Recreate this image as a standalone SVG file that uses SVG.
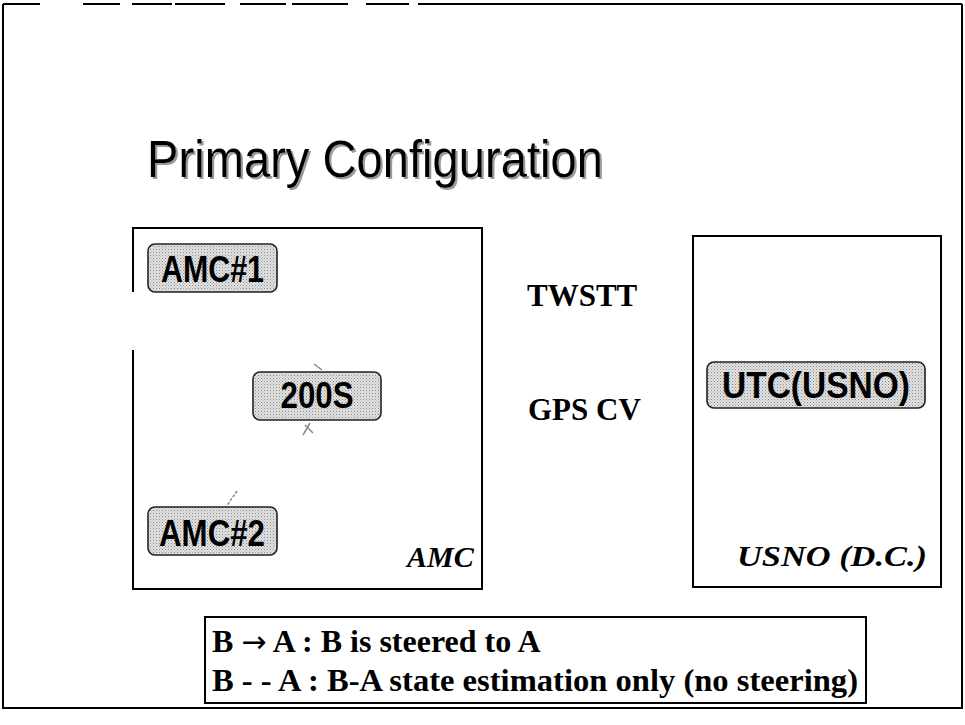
<svg xmlns="http://www.w3.org/2000/svg" width="965" height="725" viewBox="0 0 965 725">
<defs>
<pattern id="dots" width="3" height="3" patternUnits="userSpaceOnUse">
<rect width="3" height="3" fill="#e2e2e2"/>
<rect width="1" height="1" fill="#8a8a8a"/>
<rect x="1.5" y="1.5" width="1" height="1" fill="#a8a8a8"/>
</pattern>
<filter id="shadow" x="-5%" y="-20%" width="110%" height="140%">
<feOffset in="SourceAlpha" dx="2" dy="2" result="off"/>
<feFlood flood-color="#9a9a9a"/>
<feComposite in2="off" operator="in" result="sh"/>
<feMerge><feMergeNode in="sh"/><feMergeNode in="SourceGraphic"/></feMerge>
</filter>
</defs>
<style>
.frame{fill:none;stroke:#000;stroke-width:2}
.node{fill:url(#dots);stroke:#222;stroke-width:1.6}
.nt{font-family:"Liberation Sans",Arial,sans-serif;font-weight:bold;font-size:37px;fill:#000;text-anchor:middle}
.lab{font-family:"Liberation Serif","Times New Roman",serif;font-weight:bold;fill:#000}
.it{font-style:italic}
.frag{fill:none;stroke:#8a8a8a;stroke-width:1.5}
</style>
<rect width="965" height="725" fill="#fff"/>
<g id="outer-frame" class="frame">
<path d="M3,4 V708 H962 V4"/>
<path d="M3,4 H40 M83,4 H120 M132,4 H172 M175,4 H225 M240,4 H286 M292,4 H348 M366,4 H409 M418,4 H962"/>
</g>
<g id="title">
<text x="147" y="177" font-family="'Liberation Sans',Arial,sans-serif" font-size="51" fill="#000" textLength="456" lengthAdjust="spacingAndGlyphs" filter="url(#shadow)">Primary Configuration</text>
</g>
<g id="amc-site">
<path class="frame" d="M133,292 V228 H482 V589 H133 V350"/>
<text class="lab it" x="407" y="567" font-size="30">AMC</text>
</g>
<g id="usno-site">
<rect class="frame" x="693" y="236" width="248" height="351"/>
<text class="lab it" x="737" y="566" font-size="30" textLength="190" lengthAdjust="spacingAndGlyphs">USNO (D.C.)</text>
</g>
<g id="link-labels">
<text class="lab" x="527" y="306" font-size="31">TWSTT</text>
<text class="lab" x="528" y="420" font-size="31">GPS CV</text>
</g>
<g id="connectors">
<path class="frag" d="M314,364 L322,370"/>
<path class="frag" d="M303,435 L310,423 M305,425 L313,433"/>
<path class="frag" d="M237,491 L226,507" stroke-dasharray="3,1.5"/>
</g>
<g id="node-amc1">
<rect class="node" x="148" y="244" width="129" height="48" rx="7"/>
<text class="nt" x="212.5" y="282" textLength="103" lengthAdjust="spacingAndGlyphs">AMC#1</text>
</g>
<g id="node-200s">
<rect class="node" x="253" y="372" width="128" height="48" rx="7"/>
<text class="nt" x="317" y="408" textLength="73" lengthAdjust="spacingAndGlyphs">200S</text>
</g>
<g id="node-amc2">
<rect class="node" x="148" y="507" width="129" height="48" rx="7"/>
<text class="nt" x="212" y="546" textLength="106" lengthAdjust="spacingAndGlyphs">AMC#2</text>
</g>
<g id="node-utc-usno">
<rect class="node" x="707" y="362" width="218" height="46" rx="7"/>
<text class="nt" x="816" y="398" textLength="188" lengthAdjust="spacingAndGlyphs">UTC(USNO)</text>
</g>
<g id="legend">
<rect class="frame" x="205" y="617" width="661" height="86"/>
<text class="lab" x="212" y="652" font-size="32">B <tspan font-family="'DejaVu Sans',sans-serif" font-weight="normal" font-size="30">→</tspan> A : B is steered to A</text>
<text class="lab" x="212" y="691" font-size="32" textLength="646" lengthAdjust="spacingAndGlyphs">B - - A : B-A state estimation only (no steering)</text>
</g>
</svg>
